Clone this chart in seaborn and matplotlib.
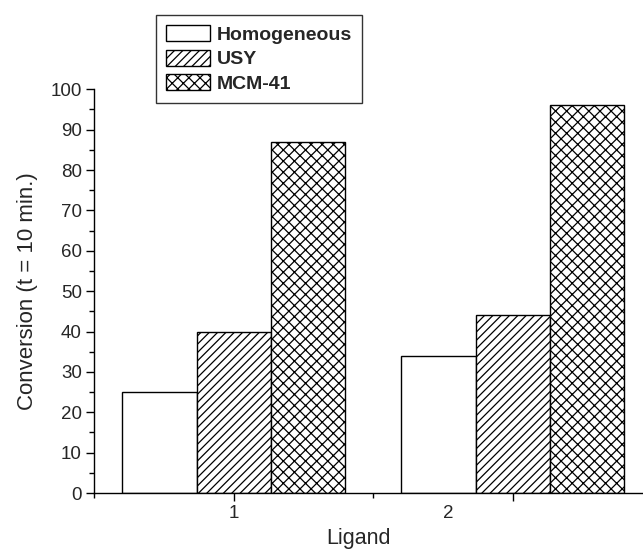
import matplotlib
matplotlib.use("Agg")
import matplotlib.pyplot as plt
import matplotlib.transforms as mtransforms
from matplotlib.patches import Patch
from matplotlib.ticker import MultipleLocator, FixedLocator
import numpy as np
import pandas as pd
import seaborn as sns

ligands = ["1", "2"]
catalysts = ["Homogeneous", "USY", "MCM-41"]
homogeneous = [25, 34]
usy = [40, 44]
mcm41 = [87, 96]
hatches = ["", "////", "xxx"]

df = pd.DataFrame({
    "Ligand": ligands * 3,
    "Catalyst": np.repeat(catalysts, len(ligands)),
    "Conversion": homogeneous + usy + mcm41,
})

sns.set_style("ticks")
plt.rcParams["font.family"] = ["Liberation Sans", "DejaVu Sans"]
plt.rcParams["hatch.linewidth"] = 0.9

fig = plt.figure(figsize=(6.43, 5.51), dpi=100)
ax = fig.add_axes([94.3 / 643, 58 / 551, 558 / 643, 403.7 / 551])

sns.barplot(data=df, x="Ligand", y="Conversion", hue="Catalyst",
            palette=["white"] * 3, edgecolor="black", linewidth=1.0,
            width=0.8, saturation=1, legend=False, ax=ax)

for cont, h in zip(ax.containers, hatches):
    for bar in cont:
        bar.set_hatch(h)

ax.set_xlim(-0.5, 1.5)
ax.set_ylim(0, 100)
ax.yaxis.set_major_locator(MultipleLocator(10))
ax.yaxis.set_minor_locator(MultipleLocator(5))
ax.xaxis.set_minor_locator(FixedLocator([-0.5, 0.5, 1.5]))

for s in ["top", "right"]:
    ax.spines[s].set_visible(False)
for s in ["left", "bottom"]:
    ax.spines[s].set_linewidth(1.0)
    ax.spines[s].set_color("black")

ax.tick_params(which="major", length=6, width=1.0, labelsize=13.5, color="black", pad=3)
ax.tick_params(which="minor", length=3.5, width=1.0, color="black")

# the "2" label sits left of its tick in the original
lab = ax.get_xticklabels()[1]
lab.set_transform(lab.get_transform() +
                  mtransforms.ScaledTranslation(-0.65, 0, fig.dpi_scale_trans))

ax.set_xlabel("Ligand", fontsize=15.5)
ax.xaxis.set_label_coords((358 - 94.3) / 558, -0.087)
ax.set_ylabel("Conversion (t = 10 min.)", fontsize=16, labelpad=9)

handles = [Patch(facecolor="white", edgecolor="black", hatch=h, linewidth=1.0)
           for h in ["", "////", "xxx"]]
leg = fig.legend(handles, catalysts, loc="upper left",
                 bbox_to_anchor=(156 / 643, 1 - 15.3 / 551),
                 frameon=True, fancybox=False, edgecolor="black",
                 prop={"weight": "bold", "size": 14},
                 handlelength=2.3, handleheight=0.9, handletextpad=0.35,
                 labelspacing=0.3, borderpad=0.5, borderaxespad=0)
leg.get_frame().set_linewidth(1.0)

fig.savefig("out.png", dpi=100)
